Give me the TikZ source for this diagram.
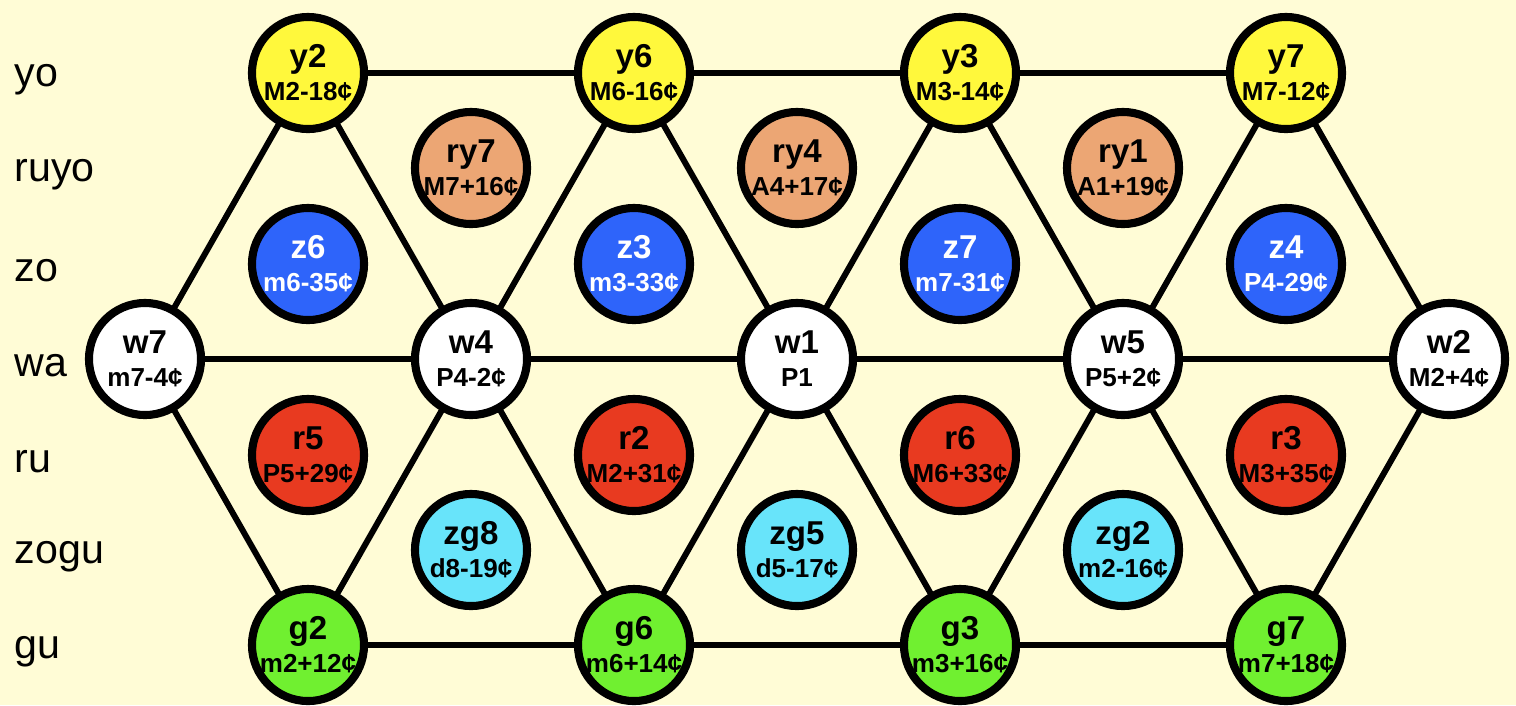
\documentclass[tikz,border=0pt]{standalone}
\usepackage{fontspec}
\setmainfont{Liberation Sans}
\definecolor{bg}{RGB}{255,252,214}
\definecolor{tyo}{RGB}{255,248,60}
\definecolor{truyo}{RGB}{236,166,116}
\definecolor{tzo}{RGB}{46,100,250}
\definecolor{tru}{RGB}{232,58,32}
\definecolor{tzogu}{RGB}{104,228,250}
\definecolor{tgu}{RGB}{112,240,48}
\tikzset{
  every picture/.style={x=0.01cm, y=-0.01cm, line width=1.7pt, line cap=round, line join=round},
  % Töne als Kreise
  ton/.style={circle, draw=black, line width=2.3pt, fill=#1, minimum size=1.12cm,
    inner sep=0pt, align=center},
  ton/.default=white,
  % Zeilennamen links
  reihe/.style={anchor=west, font=\fontsize{11.7}{14}\selectfont},
}
\newcommand{\tonlbl}[2]{{\fontsize{9.4}{10}\bfseries\selectfont #1}\\[-2.6pt]{\fontsize{7.4}{9}\bfseries\selectfont #2}}

\begin{document}
\begin{tikzpicture}
  \fill[bg] (0,0) rectangle (1516,705);
  % Zeilen
  \foreach \r/\y in {yo/73, ruyo/168, zo/264, wa/359, ru/455, zogu/550, gu/645}
    \node[reihe] (lab-\r) at (0,\y+7) {\r};
  % Knoten des Gitters
  \foreach \n/\t/\x in {y2/M2-18¢/308, y6/M6-16¢/634, y3/M3-14¢/960, y7/M7-12¢/1286}
    \node[ton=tyo] (\n) at (\x,73) {\tonlbl{\n}{\t}};
  \foreach \n/\t/\x in {w7/m7-4¢/145, w4/P4-2¢/471, w1/P1/797, w5/P5+2¢/1123, w2/M2+4¢/1449}
    \node[ton] (\n) at (\x,359) {\tonlbl{\n}{\t}};
  \foreach \n/\t/\x in {g2/m2+12¢/308, g6/m6+14¢/634, g3/m3+16¢/960, g7/m7+18¢/1286}
    \node[ton=tgu] (\n) at (\x,645) {\tonlbl{\n}{\t}};
  % Töne in den Dreiecken
  \foreach \n/\t/\x in {ry7/M7+16¢/471, ry4/A4+17¢/797, ry1/A1+19¢/1123}
    \node[ton=truyo] (\n) at (\x,168) {\tonlbl{\n}{\t}};
  \foreach \n/\t/\x in {z6/m6-35¢/308, z3/m3-33¢/634, z7/m7-31¢/960, z4/P4-29¢/1286}
    \node[ton=tzo, text=white] (\n) at (\x,264) {\tonlbl{\n}{\t}};
  \foreach \n/\t/\x in {r5/P5+29¢/308, r2/M2+31¢/634, r6/M6+33¢/960, r3/M3+35¢/1286}
    \node[ton=tru] (\n) at (\x,455) {\tonlbl{\n}{\t}};
  \foreach \n/\t/\x in {zg8/d8-19¢/471, zg5/d5-17¢/797, zg2/m2-16¢/1123}
    \node[ton=tzogu] (\n) at (\x,550) {\tonlbl{\n}{\t}};
  % Verbindungen
  \draw (y2) -- (y6) -- (y3) -- (y7);
  \draw (w7) -- (w4) -- (w1) -- (w5) -- (w2);
  \draw (g2) -- (g6) -- (g3) -- (g7);
  \draw (w7) -- (y2) -- (w4) -- (y6) -- (w1) -- (y3) -- (w5) -- (y7) -- (w2);
  \draw (w7) -- (g2) -- (w4) -- (g6) -- (w1) -- (g3) -- (w5) -- (g7) -- (w2);
\end{tikzpicture}
\end{document}
